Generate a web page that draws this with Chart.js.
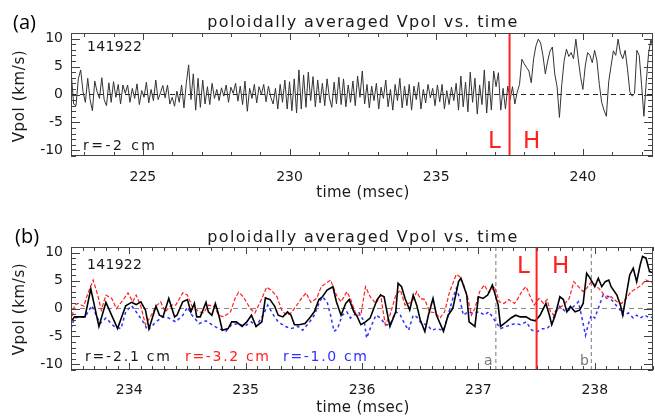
<!DOCTYPE html>
<html>
<head>
<meta charset="utf-8">
<script src="https://cdn.jsdelivr.net/npm/chart.js@4.4.1/dist/chart.umd.min.js"></script>
<style>
  html, body { margin: 0; padding: 0; background: #fff; }
  #wrap { position: relative; width: 655px; height: 418px; }
  canvas { position: absolute; left: 0; top: 0; }
</style>
</head>
<body>
<div id="wrap">
  <canvas id="chartA" width="655" height="418"></canvas>
  <canvas id="chartB" width="655" height="418"></canvas>
</div>
<script>
// (a) poloidally averaged Vpol at r=-2 cm, sampled every 0.08 ms from 222.56 ms
const vpolA = [
  3.7, -1.7, -2.0, 2.8, 4.4, 0.5, -1.4, 2.9, -0.9, -2.9, 2.4, 0.5,
  -0.7, 3.0, -0.9, -2.0, 2.1, -1.4, 2.3, -0.5, 1.8, -1.7, 1.7, 0.2, 1.7,
  -1.4, 1.1, -0.7, 1.9, -1.8, 0.7, -0.5, 2.2, -1.5, 0.9, -1.1, 2.6,
  -0.9, 0.3, 1.6, -0.6, 1.7, -1.7, -0.5, -2.1, 0.6, -1.4, 1.7, -2.4, 2.0,
  5.3, -0.9, 3.7, -2.8, 2.9, -2.3, 2.6, -1.7, 1.4, -1.8, 2.0,
  -0.7, 0.9, -1.1, 1.2, -0.3, 1.7, -1.4, 1.3, 0.2, 2.0, -1.2, 1.5, -1.8,
  2.4, -3.0, 1.1, -0.7, 1.8, -1.5, 1.4, 0.0, 1.8, -1.3, 1.5, -0.5, -1.7,
  1.1, -2.6, 1.8, -1.4, 2.6, -2.6, 2.3, -2.9, 2.8, -3.3, 4.4, -2.6, 3.5,
  -2.3, 4.0, -1.1, 3.2, -2.2, 2.6, -1.5, 2.0, -2.0, 2.8, -0.6, -2.3, 2.2,
  -1.7, 3.1, -1.8, 2.8, -2.2, 1.7, -1.4, 2.4, -2.0, 3.3, -0.5, 4.2, -1.7,
  1.8, -2.4, 1.5, -1.1, 2.0, -2.6, 1.3, -0.7, 2.6, -2.2, 0.9, -2.8, 1.8,
  -1.1, 2.9, -2.4, 1.5, -2.0, 1.8, -2.8, 1.5, -0.9, 2.2, -2.6, 0.9, -1.5,
  1.8, -0.6, 1.1, -2.0, 1.7, -1.3, 1.8, -2.6, 0.7, -1.8, 1.3, -1.1, 2.0,
  -2.8, 3.3, -2.2, 2.2, -3.1, 4.0, -1.4, 2.9, -3.5, 1.7, -1.8, 4.4, -3.3,
  2.4, -2.8, 4.2, 1.4, 3.9, -2.8, 1.1, -2.6, 1.5, -0.9, 1.4, -1.7, 0.4, 1.8,
  6.3, 5.5, 4.8, 4.2, 2.1, 6.4, 8.7, 9.9, 9.2, 6.9, 3.7, 6.0, 7.8,
  8.5, 3.7, 1.4, -4.1, 1.8, 6.0, 8.1, 6.8, 7.5, 6.4, 9.9, 6.4, 3.2,
  0.9, 5.1, 7.5, 7.0, 5.7, 7.9, 6.0, 1.8, -1.4, -2.8, -3.9, 2.3, 5.1,
  7.8, 7.0, 9.9, 7.4, 6.4, 7.9, 4.6, 0.5, -0.3, 0.2, 7.9, 7.0, 1.8,
  -3.9, 2.3, 7.4, 9.8, 8.1
];
const timeA = vpolA.map((v, i) => +(222.56 + i * 0.08).toFixed(2));

// (b) r=-2.1 cm (black)
const timeB21 = [
  233.50, 233.53, 233.62, 233.67, 233.74, 233.80, 233.90, 233.97, 234.02, 234.06,
  234.10, 234.14, 234.17, 234.23, 234.26, 234.29, 234.34, 234.39, 234.41, 234.46,
  234.50, 234.53, 234.56, 234.58, 234.61, 234.66, 234.68, 234.71, 234.74, 234.77,
  234.80, 234.85, 234.88, 234.92, 234.97, 235.01, 235.05, 235.09, 235.14, 235.17,
  235.21, 235.25, 235.28, 235.32, 235.36, 235.39, 235.42, 235.46, 235.51, 235.55,
  235.59, 235.63, 235.66, 235.70, 235.75, 235.78, 235.82, 235.86, 235.89, 235.93,
  235.96, 235.99, 236.03, 236.07, 236.13, 236.16, 236.19, 236.22, 236.24, 236.29,
  236.31, 236.34, 236.37, 236.41, 236.44, 236.47, 236.50, 236.54, 236.57, 236.61,
  236.64, 236.70, 236.74, 236.78, 236.83, 236.85, 236.90, 236.92, 236.97, 237.00,
  237.04, 237.08, 237.12, 237.17, 237.19, 237.24, 237.28, 237.32, 237.36, 237.41,
  237.45, 237.49, 237.53, 237.58, 237.61, 237.63, 237.66, 237.70, 237.73, 237.76,
  237.79, 237.83, 237.87, 237.90, 237.93, 237.96, 238.00, 238.03, 238.06, 238.09,
  238.12, 238.14, 238.19, 238.22, 238.24, 238.27, 238.30, 238.33, 238.36, 238.39,
  238.41, 238.44, 238.47, 238.50
];
const vpolB21 = [
  -2.4, -1.5, -1.5, 3.5, -3.2, 1.1, -3.6, 0.5, 1.1, 0.7,
  1.2, -0.3, -3.6, 0.4, -1.2, -1.5, 1.8, -1.5, -1.2, 1.2,
  1.6, -0.6, 0.9, -1.5, -1.5, 1.1, -0.6, -1.2, 0.9, -1.2,
  -3.9, -3.6, -2.4, -2.4, -3.2, -2.4, -1.2, -3.2, -2.4, 1.9,
  1.6, 0.4, -1.2, -1.5, -0.6, -1.2, -2.9, -2.9, -2.7, -1.7,
  -0.6, 1.6, 2.1, 3.3, 3.9, 1.2, -1.2, 0.9, 1.6, -0.6,
  -1.5, -2.9, -2.4, -1.7, 1.6, 2.4, 2.1, -1.2, -3.2, -0.6,
  4.5, 3.9, 1.8, -0.3, 2.4, 0.6, -2.0, -4.1, -1.2, 1.8,
  -1.2, -4.1, -1.2, 0.0, 4.8, 5.4, 2.4, -2.4, -3.2, 2.1,
  1.8, 2.4, 4.2, 0.6, -3.2, -2.4, -1.7, -1.2, -1.5, -1.5,
  -2.0, -2.2, -1.2, 0.9, -1.2, -2.9, -1.2, 2.1, 1.6, -0.6,
  0.4, -0.6, -0.3, 0.9, 6.3, 5.4, 3.9, 5.4, 3.9, 4.8,
  5.1, 3.9, 2.4, 0.6, -1.2, 2.4, 6.0, 7.2, 4.8, 7.8,
  9.3, 9.0, 6.6, 6.4
];

// (b) r=-3.2 cm (red)
const timeB32 = [
  233.50, 233.53, 233.56, 233.61, 233.64, 233.69, 233.73, 233.76, 233.80, 233.85,
  233.89, 233.95, 233.99, 234.03, 234.06, 234.10, 234.14, 234.19, 234.23, 234.27,
  234.31, 234.36, 234.40, 234.46, 234.50, 234.54, 234.60, 234.64, 234.68, 234.73,
  234.77, 234.81, 234.87, 234.91, 234.94, 234.98, 235.04, 235.08, 235.14, 235.18,
  235.22, 235.27, 235.31, 235.35, 235.39, 235.44, 235.48, 235.52, 235.56, 235.61,
  235.65, 235.69, 235.73, 235.78, 235.82, 235.87, 235.90, 235.95, 235.99, 236.03,
  236.07, 236.12, 236.16, 236.20, 236.24, 236.29, 236.33, 236.37, 236.43, 236.47,
  236.50, 236.54, 236.58, 236.63, 236.67, 236.71, 236.75, 236.78, 236.81, 236.84,
  236.87, 236.91, 236.94, 236.97, 237.01, 237.05, 237.09, 237.14, 237.18, 237.22,
  237.26, 237.31, 237.34, 237.38, 237.41, 237.44, 237.48, 237.52, 237.56, 237.59,
  237.62, 237.65, 237.69, 237.73, 237.78, 237.82, 237.86, 237.90, 237.93, 237.97,
  238.02, 238.06, 238.10, 238.14, 238.19, 238.23, 238.27, 238.31, 238.36, 238.40,
  238.44, 238.47, 238.50
];
const vpolB32 = [
  -2.4, 0.6, 0.9, 0.4, 2.4, 5.1, 2.4, -0.3, 2.4, 1.8,
  0.0, 1.6, 2.8, 1.2, 2.4, 0.4, -2.9, -1.2, 0.4, 1.2,
  -0.6, 0.6, 0.6, 2.8, 2.4, 0.4, -0.6, -0.8, 0.6, 0.4,
  -1.2, -1.5, -0.6, 1.8, 2.9, 2.1, 0.0, -0.8, 1.8, 3.8,
  3.3, 2.1, -0.3, -1.2, -0.8, 0.6, 1.8, 2.8, 1.1, 1.8,
  3.9, 4.5, 5.1, 2.4, 1.2, 3.0, 1.8, -1.2, -1.2, 3.9,
  2.1, 0.9, 2.4, -2.9, -1.2, 2.4, 3.3, 0.6, 1.2, 3.0,
  1.8, 1.6, -0.6, -0.8, -1.7, -0.6, 2.8, 4.5, 6.1, 5.7,
  4.5, 1.8, -1.2, 0.0, 3.0, 4.2, 2.8, 3.9, 1.2, 0.9,
  1.6, 0.9, 1.8, 3.3, 3.9, 2.4, 0.6, 1.8, 0.9, 1.6,
  -0.6, -1.2, 0.0, 0.6, 1.8, 4.8, 3.9, 3.0, 3.6, 4.8,
  3.9, 3.0, 1.8, 2.1, 1.2, 0.9, 1.8, 3.0, 3.6, 4.2,
  5.1, 4.8, 4.6
];

// (b) r=-1.0 cm (blue)
const timeB10 = [
  233.50, 233.53, 233.58, 233.62, 233.68, 233.75, 233.80, 233.87, 233.93, 233.97,
  234.02, 234.06, 234.12, 234.16, 234.23, 234.29, 234.34, 234.40, 234.46, 234.50,
  234.54, 234.60, 234.66, 234.71, 234.77, 234.83, 234.88, 234.94, 234.99, 235.05,
  235.09, 235.15, 235.19, 235.24, 235.28, 235.34, 235.39, 235.45, 235.49, 235.55,
  235.59, 235.63, 235.66, 235.70, 235.73, 235.76, 235.79, 235.83, 235.87, 235.90,
  235.93, 235.97, 236.02, 236.04, 236.07, 236.12, 236.16, 236.20, 236.24, 236.29,
  236.33, 236.37, 236.40, 236.44, 236.47, 236.51, 236.56, 236.60, 236.64, 236.70,
  236.74, 236.78, 236.81, 236.84, 236.87, 236.91, 236.95, 237.01, 237.05, 237.09,
  237.15, 237.19, 237.24, 237.28, 237.32, 237.36, 237.41, 237.46, 237.51, 237.55,
  237.59, 237.63, 237.66, 237.70, 237.75, 237.80, 237.86, 237.89, 237.92, 237.95,
  237.97, 238.00, 238.04, 238.07, 238.12, 238.16, 238.19, 238.22, 238.24, 238.29,
  238.33, 238.36, 238.39, 238.43, 238.47, 238.50
];
const vpolB10 = [
  -3.6, -1.7, -1.5, -1.5, 0.5, -2.7, -1.7, -3.2, -3.6, -0.6,
  0.5, -0.6, -2.4, -3.9, -2.4, -1.5, -1.7, -2.4, -1.2, 0.2,
  -1.2, -2.7, -2.2, -2.9, -3.6, -4.1, -2.9, -2.7, -3.2, -2.4,
  -3.2, -1.2, 0.6, -1.2, -2.4, -3.2, -3.6, -3.2, -3.9, -2.4,
  -1.2, 0.9, 2.1, 1.2, -1.2, -4.1, -3.6, -1.2, -0.6, -1.7,
  -1.2, -0.6, -2.4, -5.3, -3.6, -1.2, -1.7, -2.9, -2.9, -0.6,
  -1.2, -2.9, -3.9, -1.2, -1.5, -2.7, -2.9, -3.9, -3.6, -3.9,
  -1.2, 1.8, 3.6, 1.8, -1.2, -0.6, -0.8, -0.6, -1.2, -0.6,
  -2.4, -3.6, -3.2, -2.9, -2.7, -2.9, -2.4, -3.9, -4.1, -3.6,
  -3.6, -2.7, -0.6, 0.4, -0.6, 0.0, 1.2, -1.7, -4.8, -2.4,
  -1.2, -1.7, 0.6, 2.4, 2.1, 1.2, 0.4, -0.3, -1.2, -0.8,
  -1.7, -1.2, -1.7, -1.2, -1.7, -1.5
];

const ticksXA = [225, 230, 235, 240];
const ticksXB = [234, 235, 236, 237, 238];
const ticksY = [-10, -5, 0, 5, 10];
const lhTime = 237.5;          // L-H transition
const markTimes = [237.15, 237.97]; // times a and b

const RED = '#ff2020';
const BLUE = '#3030ff';
const FONT = '"DejaVu Sans", sans-serif';

function pts(xs, ys) {
  return xs.map((x, i) => ({ x: x, y: ys[i] }));
}

function vline(t, color, width, dash) {
  return {
    data: [{ x: t, y: -11 }, { x: t, y: 11 }],
    borderColor: color, borderWidth: width, borderDash: dash || []
  };
}

function drawText(ctx, t) {
  ctx.save();
  ctx.font = t.font || '14px ' + FONT;
  ctx.fillStyle = t.color || '#1a1a1a';
  ctx.textBaseline = t.base || 'middle';
  ctx.textAlign = 'left';
  if (t.w) {
    const w0 = ctx.measureText(t.text).width;
    ctx.letterSpacing = ((t.w - w0) / (t.text.length - 1)) + 'px';
  }
  const w = ctx.measureText(t.text).width;
  if (t.rot) {
    ctx.translate(t.x, t.y);
    ctx.rotate(-Math.PI / 2);
    ctx.fillText(t.text, -w / 2, 0);
  } else {
    ctx.fillText(t.text, t.center ? t.x - w / 2 : t.x, t.y);
  }
  ctx.restore();
}

// box with inward ticks on all four sides, like the IDL plots
const frame = {
  id: 'frame',
  afterDatasetsDraw(chart, args, o) {
    const { ctx, chartArea: a, scales: { x } } = chart;
    const y = chart.scales.y;
    ctx.save();
    ctx.strokeStyle = '#444';
    ctx.lineWidth = 1;
    ctx.strokeRect(a.left + 0.5, a.top + 0.5, a.width - 1, a.height - 1);
    ctx.beginPath();
    for (let k = Math.ceil(x.min / o.xMinor - 1e-9); k * o.xMinor <= x.max + 1e-9; k++) {
      const px = Math.round(x.getPixelForValue(k * o.xMinor)) + 0.5;
      const len = k % o.xPer === 0 ? 7 : 4;
      ctx.moveTo(px, a.bottom); ctx.lineTo(px, a.bottom - len);
      ctx.moveTo(px, a.top); ctx.lineTo(px, a.top + len);
    }
    for (let v = -11; v <= 11; v++) {
      const py = Math.round(y.getPixelForValue(v)) + 0.5;
      const len = v % 5 === 0 ? 9 : 5;
      ctx.moveTo(a.left, py); ctx.lineTo(a.left + len, py);
      ctx.moveTo(a.right, py); ctx.lineTo(a.right - len, py);
    }
    ctx.stroke();
    ctx.restore();
  },
  afterDraw(chart, args, o) {
    o.texts.forEach(t => drawText(chart.ctx, t));
  }
};

function makeChart(id, c) {
  return new Chart(document.getElementById(id), {
    type: 'line',
    data: { datasets: c.datasets },
    options: {
      responsive: false,
      animation: false,
      parsing: false,
      layout: { padding: c.pad },
      elements: { point: { radius: 0 }, line: { tension: 0, fill: false } },
      plugins: {
        legend: { display: false },
        tooltip: { enabled: false },
        frame: { xMinor: c.xMinor, xPer: c.xPer, texts: c.texts }
      },
      scales: {
        x: {
          type: 'linear', min: c.xMin, max: c.xMax,
          afterBuildTicks: s => { s.ticks = c.xTicks.map(v => ({ value: v })); },
          afterFit: s => { s.height = c.xh; },
          grid: { display: false, drawTicks: false },
          border: { display: false },
          ticks: { padding: c.xPad, color: '#1a1a1a', maxRotation: 0, autoSkip: false,
                   font: { family: FONT, size: 14 } }
        },
        y: {
          type: 'linear', min: -11, max: 11,
          afterBuildTicks: s => { s.ticks = ticksY.map(v => ({ value: v })); },
          afterFit: s => { s.width = 71; },
          grid: { display: false, drawTicks: false },
          border: { display: false },
          ticks: { padding: 8, color: '#1a1a1a', font: { family: FONT, size: 14 } }
        }
      }
    },
    plugins: [frame]
  });
}

makeChart('chartA', {
  xMin: 222.55, xMax: 242.39, xTicks: ticksXA, xMinor: 1, xPer: 5,
  pad: { left: 0, right: 2, top: 33, bottom: 213 }, xh: 49, xPad: 13,
  datasets: [
    vline(lhTime, RED, 2),
    { data: pts(timeA, vpolA), borderColor: '#333', borderWidth: 1 },
    { data: [{ x: 222.55, y: 0 }, { x: 242.39, y: 0 }], borderColor: '#222', borderWidth: 1, borderDash: [5, 4] }
  ],
  texts: [
    { text: '(a)', x: 13, y: 29, base: 'alphabetic', font: '20px "Open Sans"', color: '#000' },
    { text: 'poloidally averaged Vpol vs. time', x: 363, y: 27, base: 'alphabetic', center: true, font: '16px ' + FONT, w: 310 },
    { text: 'Vpol (km/s)', x: 20, y: 96, rot: true, font: '15px ' + FONT, w: 92 },
    { text: 'time (msec)', x: 363, y: 193, center: true, font: '15px ' + FONT, w: 93 },
    { text: '141922', x: 87, y: 47, w: 55 },
    { text: 'r=-2 cm', x: 83, y: 146, w: 72 },
    { text: 'L', x: 488, y: 142, color: RED, font: '23px ' + FONT },
    { text: 'H', x: 523, y: 142, color: RED, font: '23px ' + FONT }
  ]
});

makeChart('chartB', {
  xMin: 233.5, xMax: 238.5, xTicks: ticksXB, xMinor: 0.1, xPer: 10,
  pad: { left: 0, right: 2, top: 247, bottom: 0 }, xh: 48, xPad: 12,
  datasets: [
    vline(lhTime, RED, 2),
    { data: pts(timeB21, vpolB21), borderColor: '#000', borderWidth: 1.6 },
    { data: pts(timeB32, vpolB32), borderColor: RED, borderWidth: 1.2, borderDash: [4, 2] },
    { data: pts(timeB10, vpolB10), borderColor: BLUE, borderWidth: 1.5, borderDash: [3, 3] },
    vline(markTimes[0], '#777', 1, [4, 3]),
    vline(markTimes[1], '#777', 1, [4, 3]),
    { data: [{ x: 233.5, y: 0 }, { x: 238.5, y: 0 }], borderColor: '#888', borderWidth: 1, borderDash: [5, 4] }
  ],
  texts: [
    { text: '(b)', x: 15, y: 243, base: 'alphabetic', font: '20px "Open Sans"', color: '#000' },
    { text: 'poloidally averaged Vpol vs. time', x: 363, y: 242, base: 'alphabetic', center: true, font: '16px ' + FONT, w: 310 },
    { text: 'Vpol (km/s)', x: 20, y: 309, rot: true, font: '15px ' + FONT, w: 92 },
    { text: 'time (msec)', x: 363, y: 408, center: true, font: '15px ' + FONT, w: 93 },
    { text: '141922', x: 87, y: 265, w: 55 },
    { text: 'r=-2.1 cm', x: 85, y: 357, w: 85 },
    { text: 'r=-3.2 cm', x: 185, y: 357, w: 84, color: RED },
    { text: 'r=-1.0 cm', x: 283, y: 357, w: 84, color: BLUE },
    { text: 'L', x: 517, y: 267, color: RED, font: '23px ' + FONT },
    { text: 'H', x: 552, y: 267, color: RED, font: '23px ' + FONT },
    { text: 'a', x: 484, y: 365, base: 'alphabetic', color: '#777' },
    { text: 'b', x: 580, y: 365, base: 'alphabetic', color: '#777' }
  ]
});
</script>
</body>
</html>
